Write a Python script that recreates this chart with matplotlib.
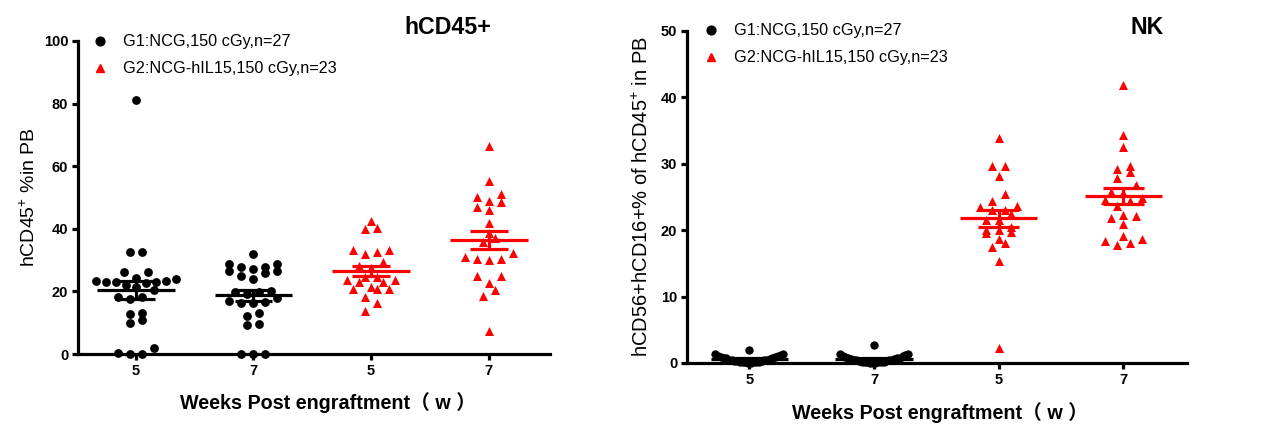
import numpy as np
import matplotlib.pyplot as plt
from matplotlib.lines import Line2D

plt.rcParams['font.family'] = ['Liberation Sans', 'Noto Sans CJK SC', 'DejaVu Sans']
plt.rcParams['mathtext.fontset'] = 'custom'
plt.rcParams['mathtext.rm'] = 'Liberation Sans'
plt.rcParams['mathtext.it'] = 'Liberation Sans:italic'
plt.rcParams['mathtext.bf'] = 'Liberation Sans:bold'

# ---------------- data ----------------
week_labels = ['5', '7', '5', '7']
g1_label = 'G1:NCG,150 cGy,n=27'
g2_label = 'G2:NCG-hIL15,150 cGy,n=23'

# hCD45+ % in PB
cd45_g1_w5 = [81.0, 32.7, 32.5, 26.1, 26.3, 24.3, 24.0, 23.2, 23.0, 22.8, 23.1, 23.3, 22.9,
              22.0, 21.3, 20.3, 18.1, 17.6, 18.1, 13.1, 12.8, 11.0, 9.9, 0.3, 0.0, 0.0, 1.8]
cd45_g1_w7 = [32.1, 27.7, 26.6, 28.8, 28.8, 26.6, 27.2, 27.7, 25.8, 25.0, 24.0, 19.9, 20.2,
              19.9, 19.2, 18.0, 17.0, 16.3, 16.3, 16.5, 13.0, 12.2, 9.6, 9.3, 0.0, 0.0, 0.0]
cd45_g2_w5 = [42.6, 40.1, 39.8, 33.2, 31.8, 32.7, 33.2, 29.5, 28.0, 27.4, 24.5, 23.6, 23.1,
              23.1, 23.6, 24.7, 20.8, 20.7, 20.7, 21.3, 18.3, 16.2, 13.8]
cd45_g2_w7 = [66.6, 55.3, 51.1, 48.7, 50.3, 49.0, 46.0, 47.1, 42.0, 38.8, 37.0, 35.9, 30.9,
              30.3, 29.9, 30.3, 32.2, 25.0, 24.8, 22.6, 20.5, 18.4, 7.4]

# hCD56+hCD16+ % of hCD45+ in PB
nk_g1_w5 = [1.9, 1.4, 1.3, 1.2, 1.1, 1.0, 0.9, 0.9, 0.8, 0.7, 0.7, 0.6, 0.5, 0.5,
            0.4, 0.4, 0.3, 0.3, 0.3, 0.2, 0.2, 0.2, 0.1, 0.1, 0.1, 0.0, 0.0]
nk_g1_w7 = [2.7, 1.4, 1.3, 1.2, 1.1, 1.0, 0.9, 0.8, 0.8, 0.7, 0.6, 0.6, 0.5, 0.5,
            0.4, 0.4, 0.3, 0.3, 0.2, 0.2, 0.2, 0.1, 0.1, 0.1, 0.0, 0.0, 0.0]
nk_g2_w5 = [33.9, 29.6, 29.6, 28.2, 25.4, 24.4, 23.0, 23.7, 23.5, 23.0, 22.4, 21.5,
            21.5, 20.5, 20.1, 19.7, 19.6, 20.0, 18.7, 18.1, 17.4, 15.3, 2.2]
nk_g2_w7 = [41.9, 34.3, 32.6, 29.2, 29.7, 28.8, 27.8, 26.8, 25.6, 25.8, 24.5, 24.8,
            24.4, 23.6, 22.3, 21.9, 22.1, 20.9, 19.2, 18.7, 18.4, 17.7, 18.0]

W, H = 1280, 441
RED = '#ff0000'


def column_x(ax, xc, vals, row_px, step_px, max_px):
    # Prism-like column scatter: bin values into rows, spread each row centre-out
    vals = np.asarray(vals, float)
    disp = ax.transData.transform(np.column_stack([np.full(len(vals), xc), vals]))
    cx, ys = disp[0, 0], disp[:, 1]
    order = np.argsort(ys, kind='stable')
    rows, cur, start = [], [order[0]], ys[order[0]]
    for i in order[1:]:
        if ys[i] - start < row_px:
            cur.append(i)
        else:
            rows.append(cur)
            cur, start = [i], ys[i]
    rows.append(cur)
    offs = np.zeros(len(vals))
    for r in rows:
        n = len(r)
        sp = step_px if n == 1 else min(step_px, 2 * max_px / (n - 1))
        slots = sorted(np.arange(n) - (n - 1) / 2, key=lambda s: (abs(s), s))
        for i, s in zip(r, slots):
            offs[i] = s * sp
    inv = ax.transData.inverted()
    return inv.transform(np.column_stack([cx + offs, ys]))[:, 0]


def draw_group(ax, xc, vals, color, marker, s, row_px, step_px, max_px, half_mean, half_sem):
    xs = column_x(ax, xc, vals, row_px, step_px, max_px)
    ax.scatter(xs, vals, s=s, marker=marker, color=color, linewidths=0,
               clip_on=False, zorder=3)
    v = np.asarray(vals, float)
    m = v.mean()
    sem = v.std(ddof=1) / np.sqrt(len(v))
    ax.hlines(m, xc - half_mean, xc + half_mean, color=color, lw=2.3, zorder=4)
    ax.hlines([m - sem, m + sem], xc - half_sem, xc + half_sem, color=color, lw=2.3, zorder=4)
    ax.vlines(xc, m - sem, m + sem, color=color, lw=2.3, zorder=4)


def style_axes(ax, ymax, ystep):
    for sp in ['top', 'right']:
        ax.spines[sp].set_visible(False)
    for sp in ['left', 'bottom']:
        ax.spines[sp].set_linewidth(2.3)
    ax.set_ylim(0, ymax)
    ax.set_yticks(np.arange(0, ymax + 1, ystep))
    ax.set_xticks(range(4))
    ax.set_xticklabels(week_labels)
    ax.tick_params(axis='both', width=2.3, length=4, labelsize=10.5, pad=3)
    for lab in ax.get_xticklabels() + ax.get_yticklabels():
        lab.set_fontweight('bold')


fig = plt.figure(figsize=(W / 100, H / 100), dpi=100)

# ---------------- left panel: hCD45+ ----------------
ax1 = fig.add_axes([78 / W, 1 - 354 / H, (550 - 78) / W, (354 - 41) / H])
ax1.set_xlim(-0.49, 3.52)
style_axes(ax1, 100, 20)
draw_group(ax1, 0, cd45_g1_w5, 'black', 'o', 40, 8.5, 12, 40, 0.33, 0.16)
draw_group(ax1, 1, cd45_g1_w7, 'black', 'o', 40, 8.5, 12, 40, 0.33, 0.16)
draw_group(ax1, 2, cd45_g2_w5, RED, '^', 42, 8.5, 12, 40, 0.33, 0.16)
draw_group(ax1, 3, cd45_g2_w7, RED, '^', 42, 8.5, 12, 40, 0.33, 0.16)

# ---------------- right panel: NK ----------------
ax2 = fig.add_axes([687 / W, 1 - 363 / H, (1187 - 687) / W, (363 - 31) / H])
ax2.set_xlim(-0.5, 3.51)
style_axes(ax2, 50, 10)
draw_group(ax2, 0, nk_g1_w5, 'black', 'o', 36, 10, 12.5, 34, 0.31, 0.165)
draw_group(ax2, 1, nk_g1_w7, 'black', 'o', 36, 10, 12.5, 34, 0.31, 0.165)
draw_group(ax2, 2, nk_g2_w5, RED, '^', 42, 8.5, 12.5, 36, 0.31, 0.165)
draw_group(ax2, 3, nk_g2_w7, RED, '^', 42, 8.5, 12.5, 36, 0.31, 0.165)

# legends
handles = [Line2D([], [], ls='none', marker='o', color='black', ms=6.3),
           Line2D([], [], ls='none', marker='^', color=RED, ms=6.3)]
for ax, anchor in [(ax1, (0.029, 1.021)), (ax2, (0.032, 1.023))]:
    ax.legend(handles, [g1_label, g2_label], loc='upper left', bbox_to_anchor=anchor,
              frameon=False, fontsize=11.7, handlelength=1.0, handletextpad=0.9,
              labelspacing=0.74, borderaxespad=0, borderpad=0)

# titles
fig.text(448 / W, 1 - 28 / H, 'hCD45+', fontsize=16.7, fontweight='bold', ha='center', va='center')
fig.text(1147 / W, 1 - 28 / H, 'NK', fontsize=16.7, fontweight='bold', ha='center', va='center')

# axis labels
fig.text(29 / W, 1 - 197 / H, r'hCD45$^{+}$ %in PB', fontsize=14, rotation=90,
         ha='center', va='center')
fig.text(642 / W, 1 - 197 / H, r'hCD56+hCD16+% of hCD45$^{+}$ in PB', fontsize=14.5,
         rotation=90, ha='center', va='center')
fig.text(328 / W, 1 - 403 / H, 'Weeks Post engraftment（ w ）', fontsize=14.2,
         fontweight='bold', ha='center', va='center')
fig.text(940 / W, 1 - 413 / H, 'Weeks Post engraftment（ w ）', fontsize=14.2,
         fontweight='bold', ha='center', va='center')

fig.savefig('out.png', dpi=100)
